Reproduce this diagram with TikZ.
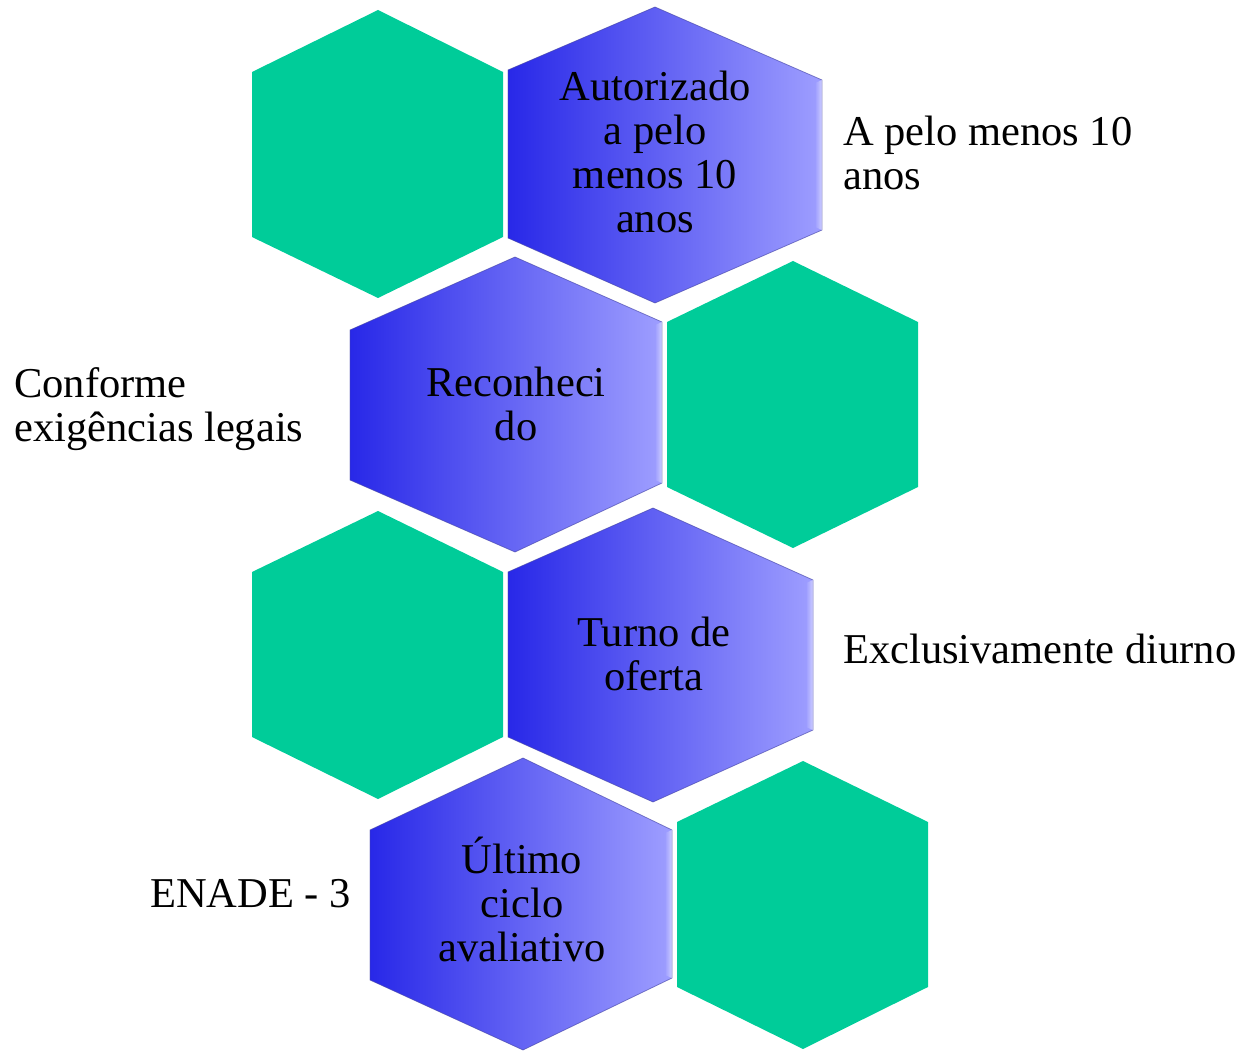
\documentclass[tikz,border=0pt]{standalone}
\usepackage{fontspec}
\setmainfont{Liberation Serif}
\usetikzlibrary{calc}

\definecolor{hexgreen}{RGB}{0,204,153}
\definecolor{hexleft}{RGB}{40,40,232}
\definecolor{hexmid}{RGB}{112,112,255}
\definecolor{hexright}{RGB}{158,158,255}
\definecolor{hexedge}{RGB}{70,70,170}

\tikzset{
  greenhex/.style={fill=hexgreen},
  bluehex/.style={left color=hexleft, middle color=hexmid, right color=hexright,
    draw=hexedge, draw opacity=.6, line width=0.8pt},
  hexshadow/.style={fill=black, opacity=.07},
  hexshine/.style={left color=hexright, right color=white, opacity=.5},
  hextext/.style={font=\fontsize{42.5}{44}\selectfont, align=center, inner sep=0pt},
  sidetext/.style={font=\fontsize{42.5}{44}\selectfont, align=left, inner sep=0pt},
}

% #1 name, then top, upper right, lower right, bottom, lower left, upper left
\newcommand{\greenhexagon}[7]{%
  \fill[greenhex] #2 -- #3 -- #4 -- #5 -- #6 -- #7 -- cycle;}
\newcommand{\bluehexagon}[7]{%
  \coordinate (#1-t) at #2; \coordinate (#1-ur) at #3;
  \coordinate (#1-lr) at #4; \coordinate (#1-b) at #5;
  \coordinate (#1-ll) at #6; \coordinate (#1-ul) at #7;
  \foreach \s in {2,4,6}
    \fill[hexshadow, shift={(\s/2,\s)}] (#1-t) -- (#1-ur) -- (#1-lr) -- (#1-b) -- (#1-ll) -- (#1-ul) -- cycle;
  \path[bluehex] (#1-t) -- (#1-ur) -- (#1-lr) -- (#1-b) -- (#1-ll) -- (#1-ul) -- cycle;
  \path[hexshine] (#1-ur) -- (#1-lr) -- ($(#1-lr)+(-7,-3)$) -- ($(#1-ur)+(-7,3)$) -- cycle;}

\begin{document}
\begin{tikzpicture}[x=1pt, y=-1pt]
    \useasboundingbox (0,0) rectangle (1243,1051);

    % green hexagons
    \greenhexagon{g1}{(378,10)}{(503,72)}{(503,237)}{(378,298)}{(252,237)}{(252,72)}
    \greenhexagon{g2}{(793,261)}{(918,322)}{(918,487)}{(793,548)}{(667,487)}{(667,322)}
    \greenhexagon{g3}{(378,511)}{(503,572)}{(503,737)}{(378,799)}{(252,737)}{(252,572)}
    \greenhexagon{g4}{(803,761)}{(928,822)}{(928,987)}{(803,1049)}{(677,987)}{(677,822)}

    % blue hexagons
    \bluehexagon{b1}{(655,7)}{(822,80)}{(822,230)}{(655,303)}{(508,238)}{(508,70)}
    \bluehexagon{b2}{(515,257)}{(662,322)}{(662,483)}{(515,552)}{(350,480)}{(350,330)}
    \bluehexagon{b3}{(653,508)}{(813,580)}{(813,730)}{(653,802)}{(508,737)}{(508,572)}
    \bluehexagon{b4}{(523,758)}{(672,830)}{(672,978)}{(523,1050)}{(370,980)}{(370,830)}

    % texts in the hexagons
    \node[hextext] (aut) at (655,152) {Autorizado\\a pelo\\menos 10\\anos};
    \node[hextext] (rec) at (516,404) {Reconheci\\do};
    \node[hextext] (tur) at (654,654) {Turno de\\oferta};
    \node[hextext] (ult) at (522,899) {Último\\ciclo\\avaliativo};

    % texts beside them
    \node[sidetext, anchor=west] (anos) at (843,153) {A pelo menos 10\\anos};
    \node[sidetext, anchor=west] (legais) at (14,409) {Conforme\\exigências legais};
    \node[sidetext, anchor=base west] (diurno) at (843,663) {Exclusivamente diurno};
    \node[sidetext, anchor=base west] (enade) at (150,907) {ENADE - 3};
\end{tikzpicture}
\end{document}
